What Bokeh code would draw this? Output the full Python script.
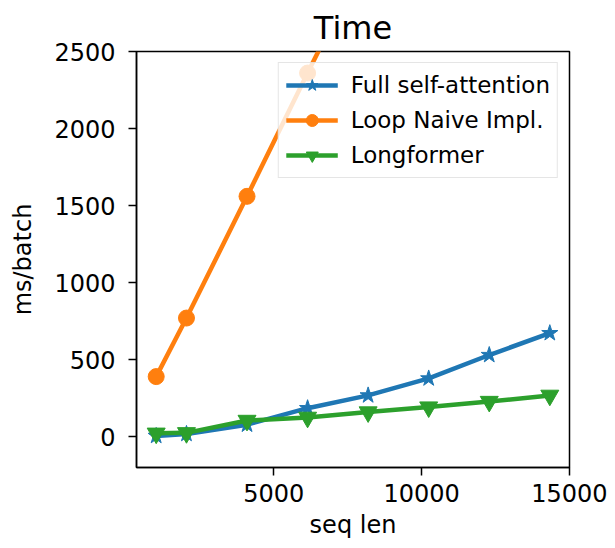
from bokeh.plotting import figure
from bokeh.models import FixedTicker, Range1d
from bokeh.embed import file_html
from bokeh.resources import INLINE

seq_len = [1024, 2048, 4096, 6144, 8192, 10240, 12288, 14336]
full_attn = [5, 18, 78, 185, 268, 378, 530, 672]
loop_len = [1024, 2048, 4096, 6144, 8192]
loop_naive = [390, 770, 1560, 2360, 3150]
longformer = [22, 25, 105, 125, 160, 192, 228, 268]

x_ticks = [5000, 10000, 15000]
y_ticks = [0, 500, 1000, 1500, 2000, 2500]

BLUE = "#1f77b4"
ORANGE = "#ff7f0e"
GREEN = "#2ca02c"
FONT = "DejaVu Sans"

p = figure(width=615, height=548, output_backend="svg", toolbar_location=None,
           x_range=Range1d(358, 15002), y_range=Range1d(-200, 2500),
           title="Time", min_border_left=136, min_border_right=46,
           min_border_top=51, min_border_bottom=81)

p.grid.visible = False
p.outline_line_color = "black"
p.outline_line_width = 1.5
p.background_fill_color = "white"
p.border_fill_color = "white"

p.title.align = "center"
p.title.text_font = FONT
p.title.text_font_size = "32px"
p.title.text_font_style = "normal"
p.title.text_color = "black"
p.title.standoff = 10

for ax in (p.xaxis[0], p.yaxis[0]):
    ax.axis_line_color = "black"
    ax.axis_line_width = 1.5
    ax.major_tick_line_width = 1.5
    ax.major_tick_out = 8
    ax.major_tick_in = 0
    ax.minor_tick_line_color = None
    ax.major_label_text_font = FONT
    ax.major_label_text_font_size = "24px"
    ax.major_label_text_color = "black"
    ax.axis_label_text_font = FONT
    ax.axis_label_text_font_size = "24px"
    ax.axis_label_text_font_style = "normal"
    ax.axis_label_text_color = "black"

p.xaxis.ticker = FixedTicker(ticks=x_ticks)
p.yaxis.ticker = FixedTicker(ticks=y_ticks)
p.xaxis.axis_label = "seq len"
p.yaxis.axis_label = "ms/batch"
p.xaxis.major_label_standoff = 8
p.yaxis.major_label_standoff = 13
p.xaxis.axis_label_standoff = 6
p.yaxis.axis_label_standoff = 14

p.line(seq_len, full_attn, color=BLUE, line_width=4.5, legend_label="Full self-attention")
p.scatter(seq_len, full_attn, marker="star", size=17, color=BLUE, legend_label="Full self-attention")

p.line(loop_len, loop_naive, color=ORANGE, line_width=4.5, legend_label="Loop Naive Impl.")
p.scatter(loop_len, loop_naive, marker="circle", size=16, color=ORANGE, legend_label="Loop Naive Impl.")

p.line(seq_len, longformer, color=GREEN, line_width=4.5, legend_label="Longformer")
p.scatter(seq_len, longformer, marker="inverted_triangle", size=18, color=GREEN, legend_label="Longformer")

lg = p.legend[0]
lg.location = "top_right"
lg.margin = 11
lg.padding = 7
lg.spacing = 5
lg.label_height = 30
lg.glyph_height = 30
lg.glyph_width = 52
lg.label_standoff = 13
lg.label_text_font = FONT
lg.label_text_font_size = "23px"
lg.label_text_color = "black"
lg.background_fill_alpha = 0.8
lg.border_line_color = "#cccccc"
lg.border_line_width = 1.5

html = file_html(p, INLINE)
open("out.html", "w").write(html)
